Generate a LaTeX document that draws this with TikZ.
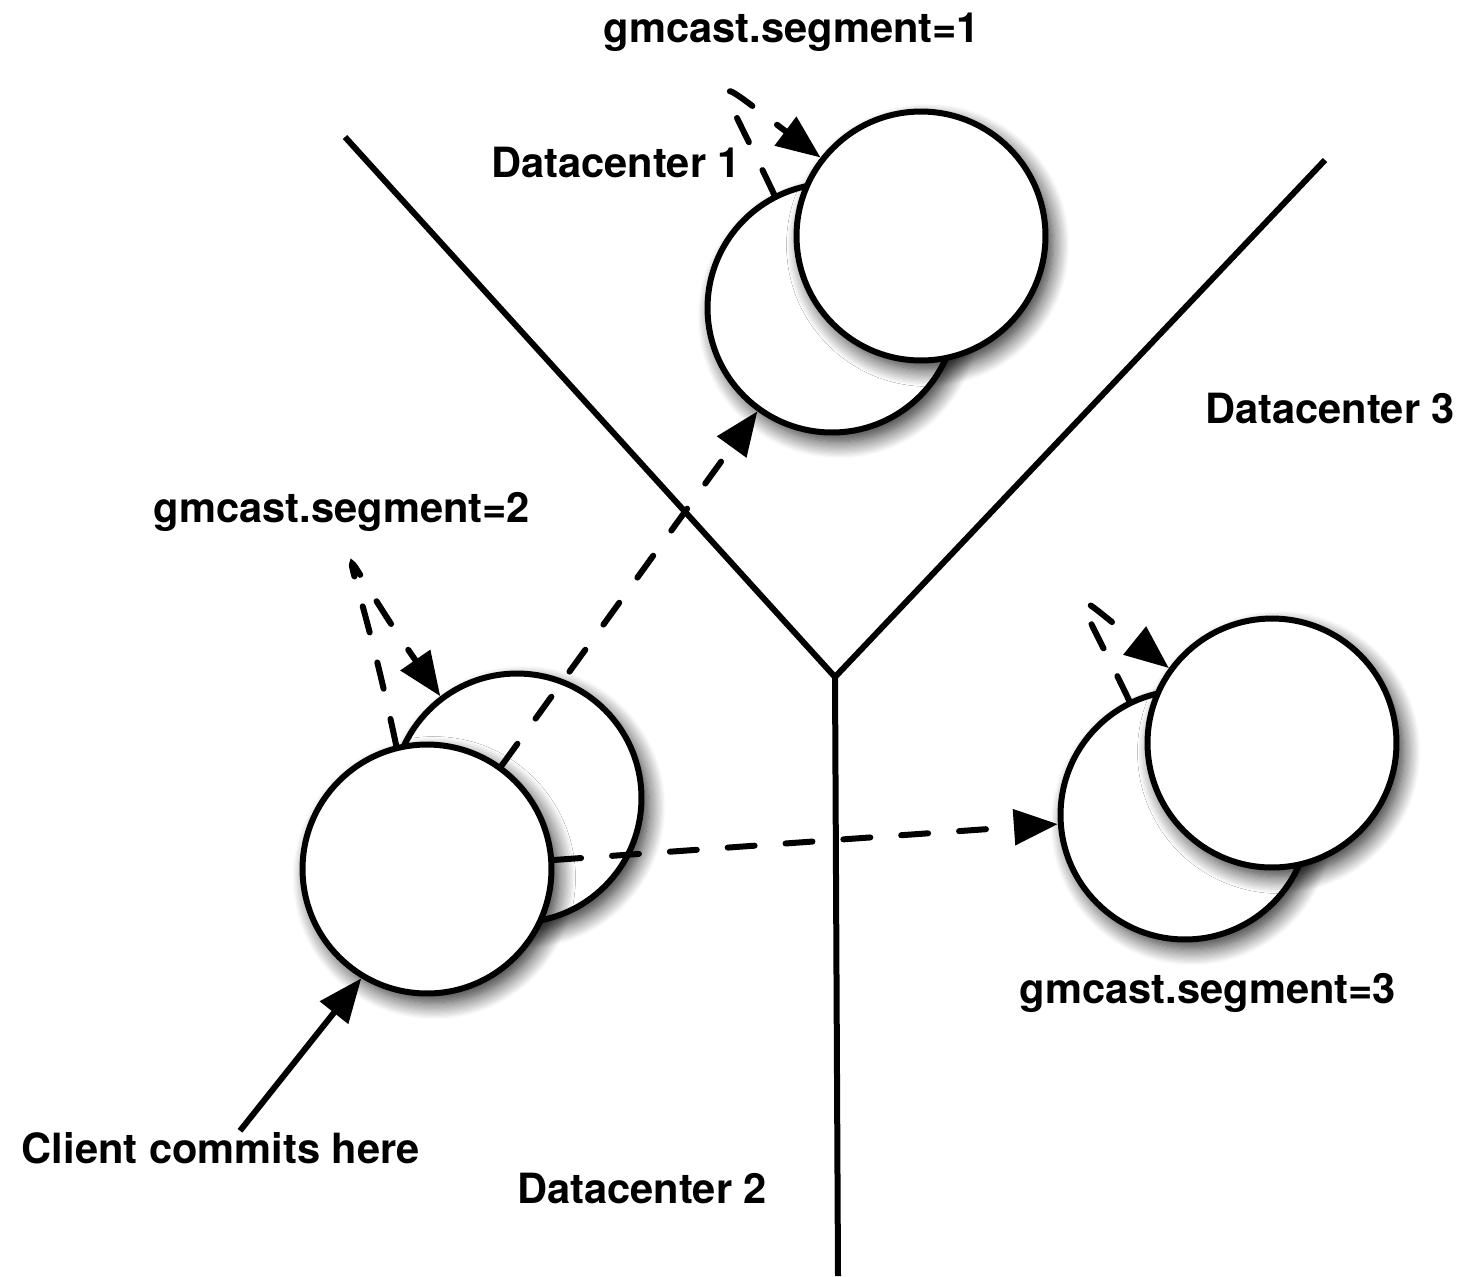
\documentclass[tikz,border=0pt]{standalone}
\usepackage{fontspec}
\setsansfont{TeX Gyre Heros}
\usetikzlibrary{positioning, arrows.meta, shadows.blur}

\begin{document}
\begin{tikzpicture}[
        x=0.02cm, y=-0.02cm,
        every node/.style={font=\fontsize{23.7}{28}\selectfont\sffamily\bfseries},
        server/.style={circle, draw, line width=0.12cm, fill=white, minimum size=4.98cm, inner sep=0pt,
            blur shadow={shadow xshift=0.14cm, shadow yshift=-0.18cm, shadow blur radius=0.34cm,
                shadow blur steps=15, shadow opacity=85}},
        wall/.style={line width=0.12cm},
        arrow/.style={-{Triangle[length=0.88cm, width=0.7cm]}, line width=0.12cm},
        repl/.style={arrow, line cap=round, dash pattern=on 0.54cm off 0.62cm},
    ]
    \useasboundingbox (0,0) rectangle (1460,1276);
    % datacenter borders
    \coordinate (fork) at (835,677);
    \draw[wall] (345,137) -- (fork) -- (1325,160);
    \draw[wall] (fork) -- (838,1276);
    % nodes
    \node[server] (dc1a) at (832,308) {};
    \node[server] (dc1b) at (921,236) {};
    \node[server] (dc2b) at (517,798) {};
    \node[server] (dc2a) at (427,869) {};
    \node[server] (dc3a) at (1185,815) {};
    \node[server] (dc3b) at (1272,743) {};
    % labels
    \node[anchor=base] (seg1) at (792,42) {gmcast.segment=1};
    \node[anchor=base] (dc1) at (616,177) {Datacenter 1};
    \node[anchor=base] (dc3) at (1330,423) {Datacenter 3};
    \node[anchor=base] (seg2) at (342,522) {gmcast.segment=2};
    \node[anchor=base] (seg3) at (1208,1003) {gmcast.segment=3};
    \node[anchor=base] (client) at (221,1163) {Client commits here};
    \node[anchor=base] (dc2) at (642,1203) {Datacenter 2};
    % replication
    \draw[repl] (dc2a) -- (dc1a);
    \draw[repl] (dc2a) -- (dc3a);
    \draw[repl] (dc1a.117) .. controls +(-59,-125) and +(-117,-88) .. (dc1b.142);
    \draw[repl] (dc2a.104) .. controls +(-48,-228) and +(-121,-175) .. (dc2b.127);
    \draw[repl] (dc3a.116) .. controls +(-56,-117) and +(-108,-87) .. (dc3b.144);
    \draw[arrow] ([xshift=0.38cm, yshift=-0.1cm]client.north) -- (dc2a.239);
\end{tikzpicture}
\end{document}
